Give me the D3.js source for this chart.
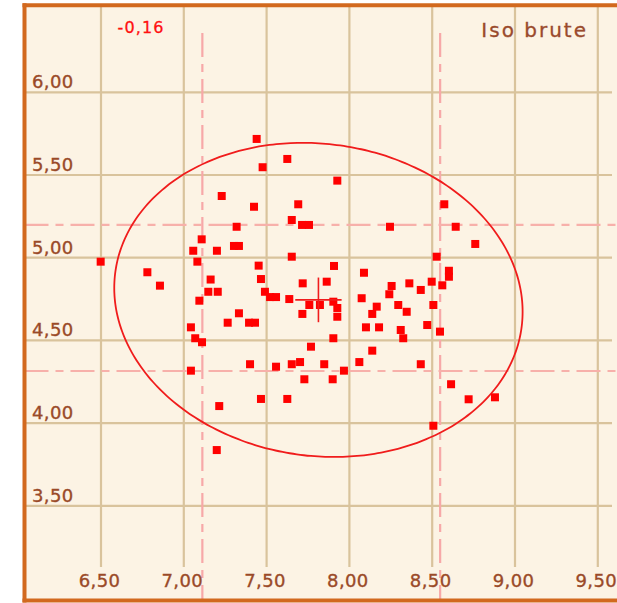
<!DOCTYPE html>
<html>
<head>
<meta charset="utf-8">
<script src="https://cdn.jsdelivr.net/npm/d3@7"></script>
<style>
  html, body { margin: 0; padding: 0; background: #ffffff; }
  svg { display: block; }
  text { font-family: "DejaVu Sans", sans-serif; }
</style>
</head>
<body>
<svg id="chart" width="617" height="603"></svg>
<script>
// ---- data ----
const xTickValues = [6.5, 7.0, 7.5, 8.0, 8.5, 9.0, 9.5];
const yTickValues = [3.5, 4.0, 4.5, 5.0, 5.5, 6.0];
const titleText = "Iso brute";
const corrText = "-0,16";
const xBands = [7.112, 8.548];
const yBands = [4.315, 5.198];
const ellipseCenter = [7.813, 4.745];
const ellipseRadii = [1.238, 0.943];
const ellipseTiltDeg = 8;
const crossHalf = [0.14, 0.135];

const xValues = [
  7.440, 7.476, 7.229, 7.424, 7.319, 7.108, 7.057, 7.200, 7.303, 7.333,
  6.498, 7.082, 7.452, 6.780, 6.856, 7.162, 7.466, 7.148, 7.205, 7.490,
  7.521, 7.557, 7.094, 7.333, 7.265, 7.394, 7.430, 7.043, 7.069, 7.110,
  7.400, 7.043, 7.466, 7.214, 7.199, 7.718, 7.863, 7.637, 7.758, 7.822,
  7.903, 7.927, 7.927, 7.716, 8.074, 8.165, 8.138, 8.255, 8.241, 8.362,
  8.431, 8.497, 8.295, 8.346, 8.507, 8.100, 8.179, 8.310, 8.325, 8.470,
  8.547, 7.903, 7.768, 8.138, 8.060, 7.557, 7.652, 7.702, 7.848, 7.967,
  7.728, 7.899, 8.431, 7.625, 8.507, 7.625, 7.927, 7.691, 7.652, 7.714,
  7.756, 8.245, 7.652, 7.907, 8.088, 8.527, 8.573, 8.642, 8.760, 8.601,
  8.601, 8.561, 8.614, 8.720, 8.879
];
const yValues = [
  5.718, 5.547, 5.373, 5.308, 5.187, 5.111, 5.042, 5.042, 5.071, 5.071,
  4.976, 4.976, 4.952, 4.912, 4.831, 4.868, 4.871, 4.794, 4.794, 4.794,
  4.762, 4.762, 4.740, 4.664, 4.607, 4.607, 4.607, 4.579, 4.513, 4.489,
  4.356, 4.317, 4.146, 4.103, 3.837, 4.845, 4.855, 4.750, 4.714, 4.714,
  4.734, 4.696, 4.643, 4.660, 4.755, 4.704, 4.660, 4.829, 4.779, 4.845,
  4.805, 4.855, 4.714, 4.673, 4.714, 4.579, 4.579, 4.563, 4.513, 4.593,
  4.553, 4.513, 4.462, 4.438, 4.369, 4.341, 4.356, 4.369, 4.356, 4.317,
  4.265, 4.265, 4.356, 4.146, 3.984, 5.597, 5.466, 5.323, 5.228, 5.198,
  5.198, 5.187, 5.006, 4.950, 4.909, 5.006, 5.323, 5.187, 5.083, 4.921,
  4.885, 4.833, 4.235, 4.144, 4.156
];

// ---- drawing ----
const W = 617, H = 603;
const svg = d3.select("#chart");
const locale = d3.formatLocale({decimal: ",", thousands: ".", grouping: [3], currency: ["", ""]});
const fmt = locale.format(".2f");

const x = d3.scaleLinear().domain([6.5, 9.5]).range([101, 597.8]);
const y = d3.scaleLinear().domain([3.5, 6.0]).range([505.8, 92.3]);

const frameL = 24.5, frameT = 5.3, frameB = 600.5;
const gridColor = "#d9c39c";
const labelColor = "#9a4a28";

// background
svg.append("rect").attr("x", frameL).attr("y", frameT).attr("width", W - frameL).attr("height", frameB - frameT)
  .attr("fill", "#fcf3e4");

// vertical grid
svg.append("g").selectAll("line").data(xTickValues).join("line")
  .attr("x1", d => x(d)).attr("x2", d => x(d))
  .attr("y1", frameT).attr("y2", 567)
  .attr("stroke", gridColor).attr("stroke-width", 2.2);

// horizontal grid
svg.append("g").selectAll("line").data(yTickValues).join("line")
  .attr("x1", frameL).attr("x2", 612)
  .attr("y1", d => y(d)).attr("y2", d => y(d))
  .attr("stroke", gridColor).attr("stroke-width", 2.2);

// dashed band lines
const dash = "24,7,8,7";
svg.append("g").selectAll("line").data(xBands).join("line")
  .attr("x1", d => x(d)).attr("x2", d => x(d))
  .attr("y1", 33).attr("y2", frameB)
  .attr("stroke", "#f7a8a8").attr("stroke-width", 2.2).attr("stroke-dasharray", dash);
svg.append("g").selectAll("line").data(yBands).join("line")
  .attr("x1", frameL).attr("x2", W)
  .attr("y1", d => y(d)).attr("y2", d => y(d))
  .attr("stroke", "#f7b0aa").attr("stroke-width", 2.2).attr("stroke-dasharray", dash);

// tick labels
svg.append("g").selectAll("text").data(xTickValues).join("text")
  .attr("x", d => x(d) - 1.5).attr("y", 587)
  .attr("text-anchor", "middle")
  .attr("font-size", 18).attr("letter-spacing", 0.4)
  .attr("fill", labelColor).attr("stroke", labelColor).attr("stroke-width", 0.35)
  .text(d => fmt(d));
svg.append("g").selectAll("text").data(yTickValues).join("text")
  .attr("x", 32).attr("y", d => y(d) - 4)
  .attr("font-size", 18).attr("letter-spacing", 0.4)
  .attr("fill", labelColor).attr("stroke", labelColor).attr("stroke-width", 0.35)
  .text(d => fmt(d));

// ellipse
const th = ellipseTiltDeg * Math.PI / 180;
const cxp = x(ellipseCenter[0]), cyp = y(ellipseCenter[1]);
const ax = x(ellipseCenter[0] + ellipseRadii[0]) - cxp;
const by = cyp - y(ellipseCenter[1] + ellipseRadii[1]);
const ts = d3.range(0, 360, 2).map(a => a * Math.PI / 180);
const ellLine = d3.line()
  .x(t => cxp + ax * Math.cos(t) * Math.cos(th) - by * Math.sin(t) * Math.sin(th))
  .y(t => cyp + ax * Math.cos(t) * Math.sin(th) + by * Math.sin(t) * Math.cos(th))
  .curve(d3.curveCardinalClosed);
svg.append("path").attr("d", ellLine(ts))
  .attr("fill", "none").attr("stroke", "#f01c1c").attr("stroke-width", 1.8);

// points
const pts = xValues.map((v, i) => [v, yValues[i]]);
svg.append("g").selectAll("rect").data(pts).join("rect")
  .attr("x", d => x(d[0]) - 4).attr("y", d => y(d[1]) - 4)
  .attr("width", 8).attr("height", 8)
  .attr("fill", "#ff0000");

// center cross
svg.append("line")
  .attr("x1", x(ellipseCenter[0] - crossHalf[0])).attr("x2", x(ellipseCenter[0] + crossHalf[0]))
  .attr("y1", cyp).attr("y2", cyp)
  .attr("stroke", "#f01c1c").attr("stroke-width", 1.6);
svg.append("line")
  .attr("x1", x(ellipseCenter[0])).attr("x2", x(ellipseCenter[0]))
  .attr("y1", y(ellipseCenter[1] + crossHalf[1])).attr("y2", y(ellipseCenter[1] - crossHalf[1]))
  .attr("stroke", "#f01c1c").attr("stroke-width", 1.6);

// texts
svg.append("text").attr("x", 141).attr("y", 33).attr("text-anchor", "middle")
  .attr("font-size", 16).attr("letter-spacing", 1.1).attr("fill", "#ff1010")
  .attr("stroke", "#ff1010").attr("stroke-width", 0.3).text(corrText);
svg.append("text").attr("x", 588).attr("y", 37).attr("text-anchor", "end")
  .attr("font-size", 20).attr("letter-spacing", 2).attr("fill", "#9a4a2c")
  .attr("stroke", "#9a4a2c").attr("stroke-width", 0.3).text(titleText);

// frame (left, top, bottom)
const frame = [[[frameL, frameT], [W, frameT]], [[frameL, frameT], [frameL, frameB]], [[frameL, frameB], [W, frameB]]];
svg.append("g").selectAll("path").data(frame).join("path")
  .attr("d", d => d3.line()(d))
  .attr("stroke", "#d2691e").attr("stroke-width", 4).attr("fill", "none").attr("stroke-linecap", "square");
</script>
</body>
</html>
